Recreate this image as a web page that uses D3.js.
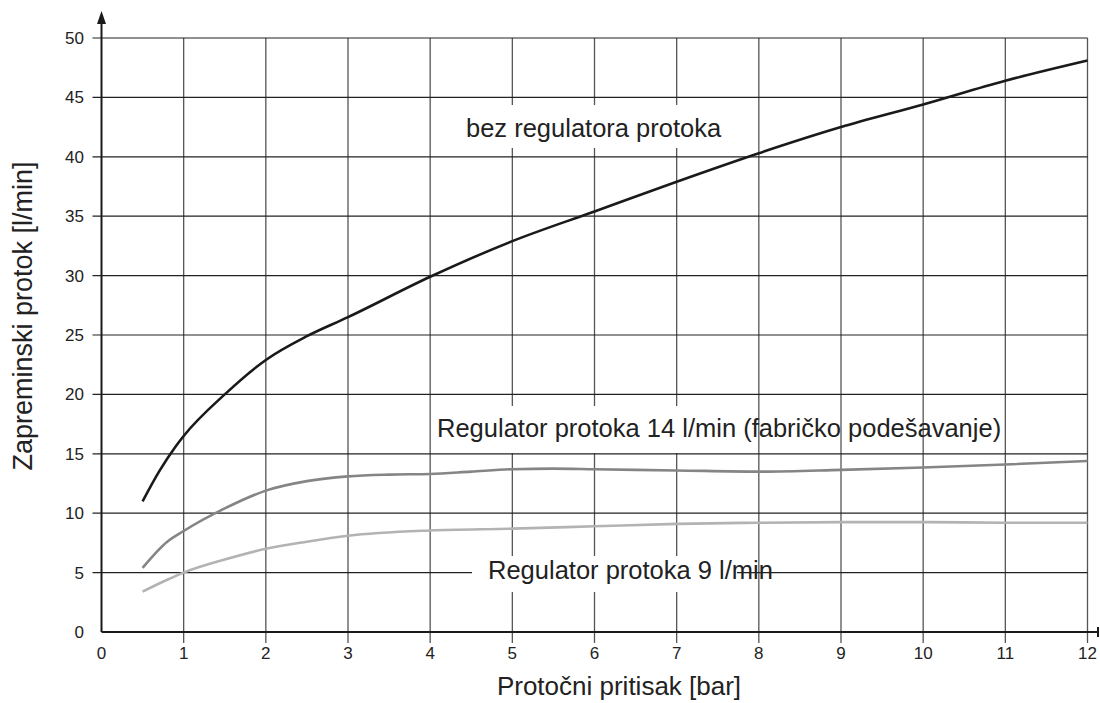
<!DOCTYPE html>
<html>
<head>
<meta charset="utf-8">
<script src="https://cdn.jsdelivr.net/npm/d3@7"></script>
<style>
  body { margin: 0; background: #fff; }
  svg { display: block; font-family: "Liberation Sans", Arial, sans-serif; }
</style>
</head>
<body>
<svg id="chart" width="1100" height="703"></svg>
<script>
// data
const xTicks = [0, 1, 2, 3, 4, 5, 6, 7, 8, 9, 10, 11, 12];
const yTicks = [0, 5, 10, 15, 20, 25, 30, 35, 40, 45, 50];

const pressure = [0.5, 0.7, 0.9, 1, 1.5, 2, 2.5, 3, 4, 5, 6, 7, 8, 9, 10, 11, 12];
const noRegulator = [11, 13.5, 15.6, 16.5, 20, 22.9, 24.9, 26.5, 29.9, 32.9, 35.4, 37.9, 40.3, 42.5, 44.4, 46.4, 48.1];

const pressure14 = [0.5, 0.8, 1, 1.5, 2, 2.5, 3, 3.5, 4, 4.5, 5, 5.5, 6, 7, 8, 9, 10, 11, 12];
const reg14 = [5.4, 7.6, 8.5, 10.4, 11.9, 12.7, 13.1, 13.25, 13.3, 13.5, 13.7, 13.75, 13.7, 13.6, 13.5, 13.65, 13.85, 14.1, 14.4];

const pressure9 = [0.5, 0.8, 1, 1.5, 2, 2.5, 3, 4, 5, 6, 7, 8, 9, 10, 11, 12];
const reg9 = [3.4, 4.4, 5.0, 6.1, 7.0, 7.6, 8.1, 8.55, 8.7, 8.9, 9.1, 9.2, 9.25, 9.25, 9.2, 9.2];

const svg = d3.select('#chart');
const x = d3.scaleLinear().domain([0, 12]).range([101.5, 1087.5]);
const y = d3.scaleLinear().domain([0, 50]).range([632, 38]);

// ── GRID ──────────────────────────────────────────────
const grid = svg.append('g');
grid.selectAll('line.v')
  .data(xTicks.slice(1))
  .join('line')
  .attr('x1', d => x(d)).attr('x2', d => x(d))
  .attr('y1', y(50)).attr('y2', y(0) + 11)
  .attr('stroke', '#555').attr('stroke-width', 1.3);

grid.selectAll('line.h')
  .data(yTicks.slice(1))
  .join('line')
  .attr('x1', x(0) - 9).attr('x2', x(12))
  .attr('y1', d => y(d)).attr('y2', d => y(d))
  .attr('stroke', '#222').attr('stroke-width', 1.2);

// white patches behind the curve labels (they break the grid in the original)
const patches = [
  { x: 445, y: 105, w: 245, h: 43 },
  { x: 440, y: 406, w: 245, h: 47 },
  { x: 472, y: 556, w: 265, h: 36 }
];
svg.append('g').selectAll('rect')
  .data(patches)
  .join('rect')
  .attr('x', d => d.x).attr('y', d => d.y)
  .attr('width', d => d.w).attr('height', d => d.h)
  .attr('fill', '#fff');

// ── AXES ──────────────────────────────────────────────
const axes = svg.append('g').attr('stroke', '#1a1a1a').attr('stroke-width', 2);
axes.append('line').attr('x1', x(0)).attr('x2', x(0)).attr('y1', y(0)).attr('y2', 18);
axes.append('line').attr('x1', x(0)).attr('x2', 1098).attr('y1', y(0)).attr('y2', y(0));
axes.append('line').attr('x1', 1098).attr('x2', 1098).attr('y1', y(0) - 5).attr('y2', y(0) + 5);
svg.append('path')
  .attr('d', `M${x(0)},11 L${x(0) - 4.5},24 L${x(0) + 4.5},24 Z`)
  .attr('fill', '#1a1a1a');

svg.append('g').selectAll('text')
  .data(yTicks)
  .join('text')
  .attr('x', 84).attr('y', d => y(d) + 6)
  .attr('text-anchor', 'end')
  .attr('font-size', 17).attr('fill', '#222')
  .text(d => d);

svg.append('g').selectAll('text')
  .data(xTicks)
  .join('text')
  .attr('x', d => x(d)).attr('y', 659)
  .attr('text-anchor', 'middle')
  .attr('font-size', 17).attr('fill', '#222')
  .text(d => d);

svg.append('text')
  .attr('transform', 'translate(32,316) rotate(-90)')
  .attr('text-anchor', 'middle')
  .attr('font-size', 27).attr('fill', '#222')
  .text('Zapreminski protok [l/min]');

svg.append('text')
  .attr('x', 619).attr('y', 695)
  .attr('text-anchor', 'middle')
  .attr('font-size', 26).attr('fill', '#222')
  .text('Protočni pritisak [bar]');

// ── CURVES ────────────────────────────────────────────
const line = d3.line().curve(d3.curveMonotoneX);
const series = [
  { xs: pressure, ys: noRegulator, color: '#1a1a1a' },
  { xs: pressure14, ys: reg14, color: '#858585' },
  { xs: pressure9, ys: reg9, color: '#b3b3b3' }
];
svg.append('g').selectAll('path')
  .data(series)
  .join('path')
  .attr('d', s => line(s.xs.map((p, i) => [x(p), y(s.ys[i])])))
  .attr('fill', 'none')
  .attr('stroke', s => s.color)
  .attr('stroke-width', 2.6);

// ── LABELS ────────────────────────────────────────────
const labels = [
  { text: 'bez regulatora protoka', x: 466, y: 137 },
  { text: 'Regulator protoka 14 l/min (fabričko podešavanje)', x: 437, y: 437 },
  { text: 'Regulator protoka 9 l/min', x: 488, y: 579 }
];
svg.append('g').selectAll('text')
  .data(labels)
  .join('text')
  .attr('x', d => d.x).attr('y', d => d.y)
  .attr('font-size', 25.5).attr('fill', '#222')
  .text(d => d.text);
</script>
</body>
</html>
